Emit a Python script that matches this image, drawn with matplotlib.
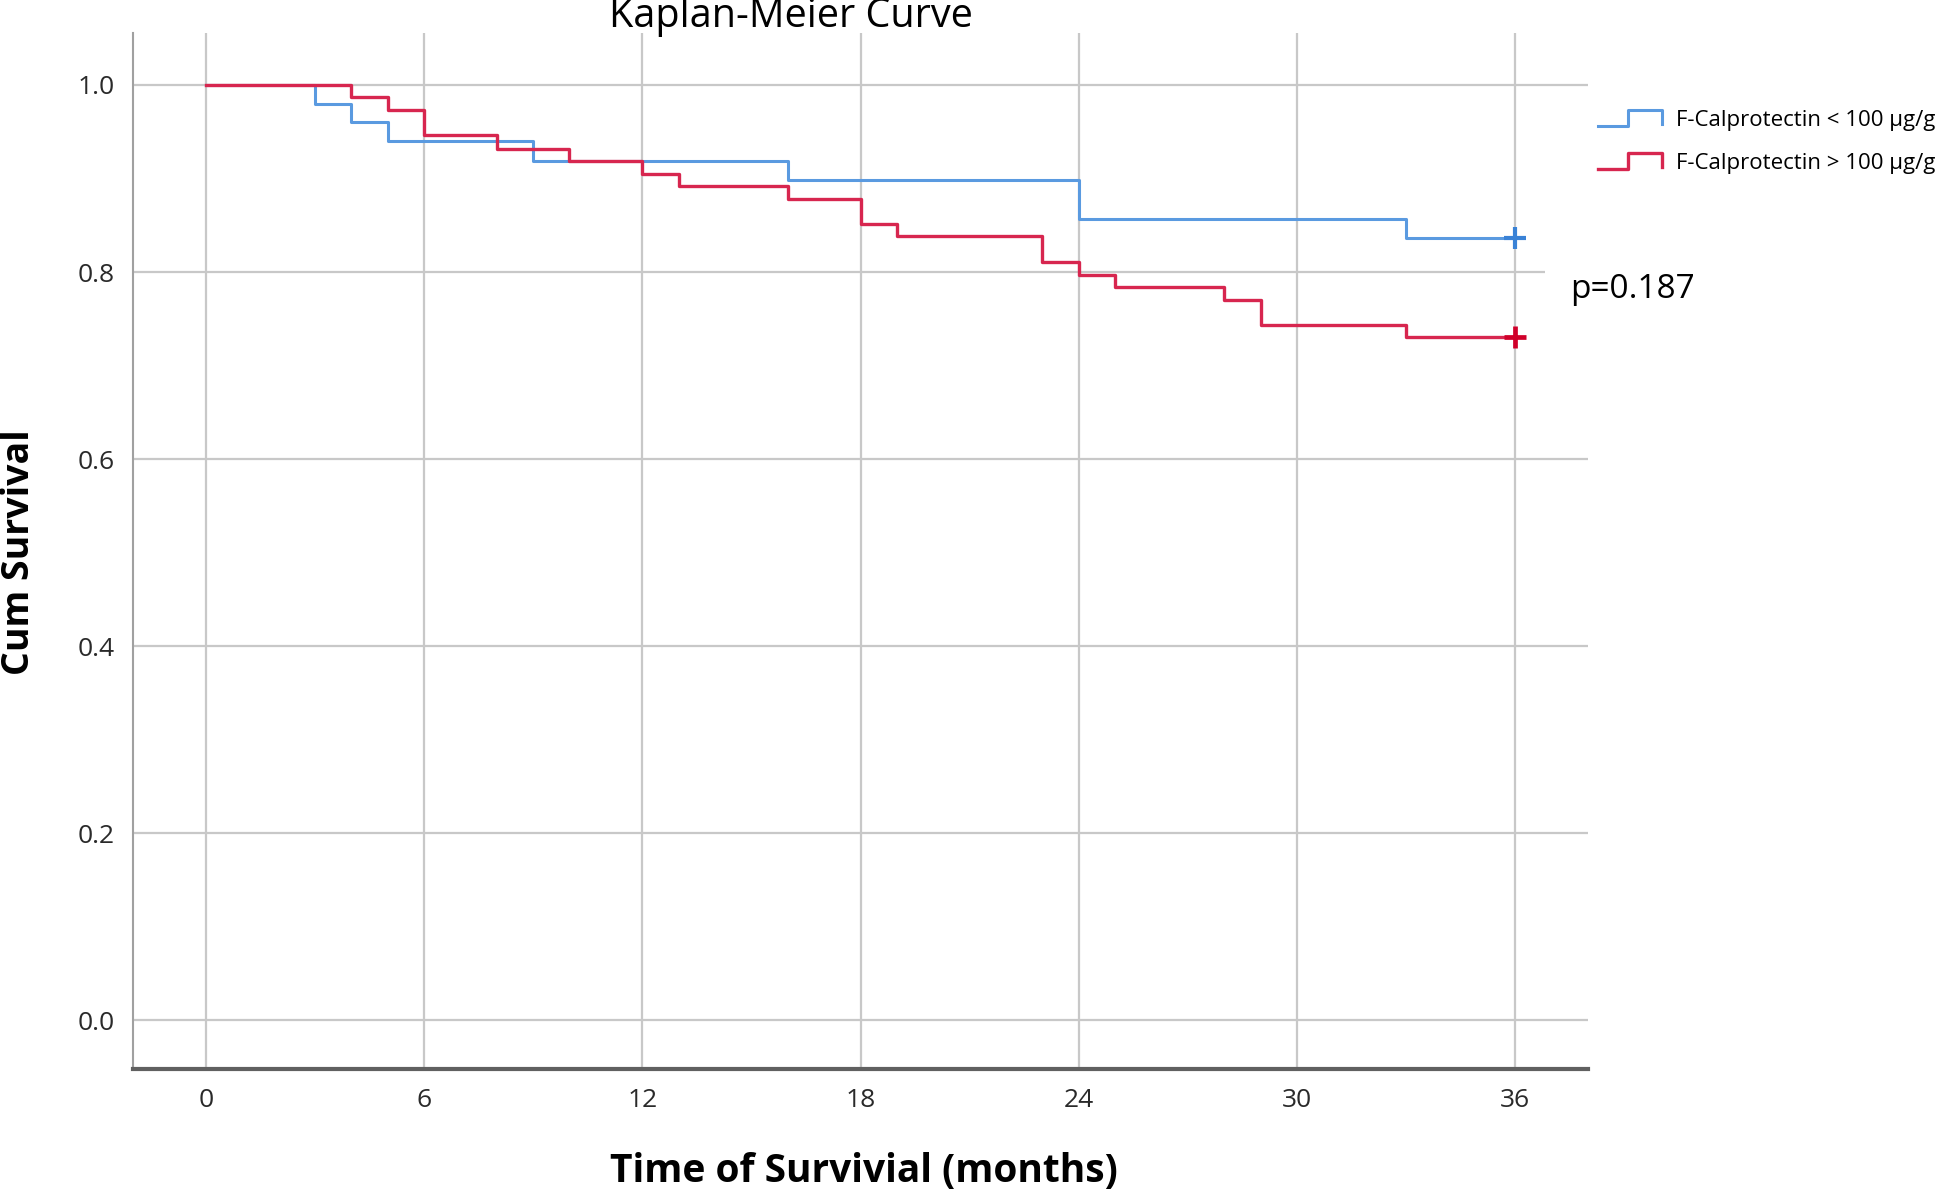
import numpy as np
import matplotlib.pyplot as plt
from matplotlib.legend_handler import HandlerBase
from matplotlib.lines import Line2D

"""
data (read off the reference)
"""
low_t = [0, 3, 4, 5, 9, 16, 24, 33, 36]
low_s = [1.0, 0.980, 0.960, 0.940, 0.919, 0.898, 0.857, 0.836, 0.836]
high_t = [0, 4, 5, 6, 8, 10, 12, 13, 16, 18, 19, 23, 24, 25, 28, 29, 33, 36]
high_s = [1.0, 0.987, 0.973, 0.946, 0.932, 0.919, 0.905, 0.892, 0.878,
          0.851, 0.838, 0.811, 0.797, 0.784, 0.770, 0.743, 0.730, 0.730]
labels = ['F-Calprotectin < 100 µg/g', 'F-Calprotectin > 100 µg/g']
xticks = [0, 6, 12, 18, 24, 30, 36]
yticks = [0.0, 0.2, 0.4, 0.6, 0.8, 1.0]
pval = 'p=0.187'

c_low = '#5a9ae0'
c_high = '#d7264f'
font = ['Open Sans', 'DejaVu Sans']
plt.rcParams['font.family'] = font


class StepHandler(HandlerBase):
  # legend handle shaped like a little step
  def create_artists(self, legend, orig, xd, yd, w, h, fs, trans):
    x0, y0 = -xd, -yd
    xs = [x0, x0 + 0.47*w, x0 + 0.47*w, x0 + w, x0 + w]
    ys = [y0, y0, y0 + h, y0 + h, y0 + 0.1*h]
    ln = Line2D(xs, ys, color=orig.get_color(), lw=orig.get_linewidth(),
                transform=trans)
    return [ln]


fig = plt.figure(figsize=(19.44, 11.95), dpi=100)
ax = fig.add_axes([0.0684, 0.1054, 0.7485, 0.8666])

ax.grid(True, color='#c8c8c8', lw=1.6)
ax.set_axisbelow(True)

l1, = ax.step(low_t, low_s, where='post', color=c_low, lw=2.2, label=labels[0])
l2, = ax.step(high_t, high_s, where='post', color=c_high, lw=2.4, label=labels[1])
ax.plot(low_t[-1], low_s[-1], '+', color='#3a82d6', ms=16, mew=3, clip_on=False)
ax.plot(high_t[-1], high_s[-1], '+', color='#d0002a', ms=16, mew=3.4, clip_on=False)

ax.set_xlim(-2, 38)
ax.set_ylim(-0.052, 1.055)
ax.set_xticks(xticks)
ax.set_yticks(yticks)
ax.set_yticklabels(['{:.1f}'.format(v) for v in yticks])
ax.tick_params(length=0, labelsize=19, labelcolor='#2a2a2a')
ax.tick_params(axis='x', pad=14)
ax.tick_params(axis='y', pad=13)

for s in ['top', 'right']:
  ax.spines[s].set_visible(False)
ax.spines['left'].set_color('#a0a0a0')
ax.spines['left'].set_linewidth(1.5)
ax.spines['bottom'].set_color('#606060')
ax.spines['bottom'].set_linewidth(3)

ax.text(37.5, 0.781, pval, fontsize=24, va='center', ha='left',
        bbox=dict(facecolor='white', edgecolor='none', pad=18), clip_on=False)

fig.legend(handles=[l1, l2], loc='upper left', bbox_to_anchor=(0.8115, 0.925),
           frameon=False, fontsize=16, handlelength=2.9, handletextpad=0.65,
           labelspacing=1.0, handler_map={Line2D: StepHandler()})

fig.text(0.407, 0.986, 'Kaplan-Meier Curve', fontsize=28.5, ha='center', va='center')
fig.text(0.0096, 0.538, 'Cum Survival', fontsize=27, fontweight='bold',
         rotation=90, ha='center', va='center')
fig.text(0.4446, 0.0195, 'Time of Survivial (months)', fontsize=28,
         fontweight='bold', ha='center', va='center')

fig.savefig('out.png', dpi=100)
